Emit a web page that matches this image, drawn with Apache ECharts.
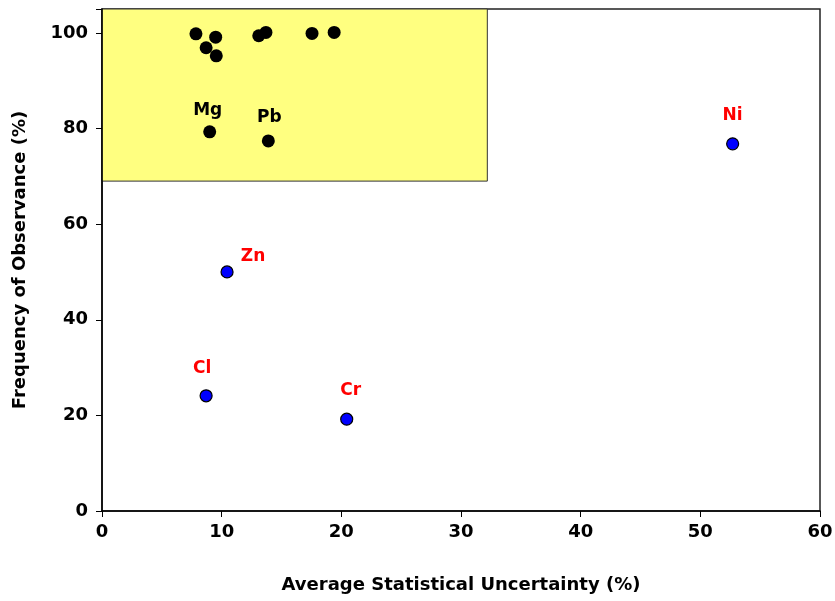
<!DOCTYPE html>
<html>
<head>
<meta charset="utf-8">
<script src="https://cdn.jsdelivr.net/npm/echarts@6/dist/echarts.min.js"></script>
<style>
  html, body { margin: 0; padding: 0; background: #fff; }
  #chart { width: 835px; height: 601px; }
</style>
</head>
<body>
<div id="chart"></div>
<script>
// Elements observed in nearly every sample (black markers)
const frequentX = [7.85, 9.5, 8.7, 9.55, 13.1, 13.7, 17.55, 19.4, 9.0, 13.9];
const frequentY = [99.8, 99.1, 96.9, 95.2, 99.4, 100.1, 99.9, 100.1, 79.3, 77.4];
const frequentNames = ['', '', '', '', '', '', '', '', 'Mg', 'Pb'];

// Elements of interest (blue markers, red labels)
const keyNames = ['Ni', 'Zn', 'Cl', 'Cr'];
const keyX = [52.7, 10.45, 8.7, 20.45];
const keyY = [76.8, 50.0, 24.1, 19.2];

// Highlighted region: high frequency, low uncertainty
const regionX = [0, 32.2];
const regionY = [69, 105];

const xTicks = [0, 10, 20, 30, 40, 50, 60];
const yTicks = [0, 20, 40, 60, 80, 100];

// Label placement relative to each marker, in pixels
const labelOffsets = {
  Mg: [-2, -21], Pb: [1, -23],
  Ni: [0, -28], Zn: [26, -15], Cl: [-4, -27], Cr: [4, -29]
};

const font = 'DejaVu Sans';

function labelled(names, xs, ys, color) {
  return names.map((n, i) => {
    const item = { value: [xs[i], ys[i]], name: n };
    if (n) {
      item.label = {
        show: true, formatter: n, position: 'inside',
        offset: labelOffsets[n], color: color,
        fontFamily: font, fontWeight: 'bold', fontSize: 17
      };
    }
    return item;
  });
}

const chart = echarts.init(document.getElementById('chart'));
chart.setOption({
  animation: false,
  backgroundColor: '#ffffff',
  grid: {
    left: 102, right: 15, top: 9, bottom: 90,
    outerBoundsMode: 'none', containLabel: false,
    show: true, borderColor: '#222', borderWidth: 1.5, backgroundColor: 'transparent'
  },
  xAxis: {
    type: 'value', min: xTicks[0], max: xTicks[xTicks.length - 1], interval: 10,
    name: 'Average Statistical Uncertainty (%)',
    nameLocation: 'middle', nameGap: 65,
    nameTextStyle: { fontFamily: font, fontWeight: 'bold', fontSize: 18, color: '#000' },
    axisLine: { show: true, lineStyle: { color: '#000', width: 1.5 } },
    axisTick: { show: true, length: 6, lineStyle: { color: '#000', width: 1 } },
    axisLabel: { fontFamily: font, fontWeight: 'bold', fontSize: 18, color: '#000', margin: 12 },
    splitLine: { show: false }
  },
  yAxis: {
    type: 'value', min: yTicks[0], max: 105, interval: 20,
    name: 'Frequency of Observance (%)',
    nameLocation: 'middle', nameGap: 73,
    nameTextStyle: { fontFamily: font, fontWeight: 'bold', fontSize: 18, color: '#000' },
    axisLine: { show: true, lineStyle: { color: '#000', width: 1.5 } },
    axisTick: { show: true, length: 6, lineStyle: { color: '#000', width: 1 } },
    axisLabel: {
      fontFamily: font, fontWeight: 'bold', fontSize: 18, color: '#000', margin: 14,
      formatter: v => (yTicks.includes(v) ? String(v) : '')
    },
    splitLine: { show: false }
  },
  series: [
    {
      type: 'scatter',
      symbolSize: 13,
      itemStyle: { color: '#000', opacity: 1 },
      data: labelled(frequentNames, frequentX, frequentY, '#000'),
      markArea: {
        silent: true,
        itemStyle: { color: '#FFFF80', borderColor: '#333', borderWidth: 1 },
        data: [[{ coord: [regionX[0], regionY[0]] }, { coord: [regionX[1], regionY[1]] }]],
        z: 0
      },
      z: 3
    },
    {
      type: 'scatter',
      symbolSize: 12,
      itemStyle: { color: '#0000FF', borderColor: '#000', borderWidth: 1.2, opacity: 1 },
      data: labelled(keyNames, keyX, keyY, '#FF0000'),
      z: 3
    }
  ]
});
</script>
</body>
</html>
